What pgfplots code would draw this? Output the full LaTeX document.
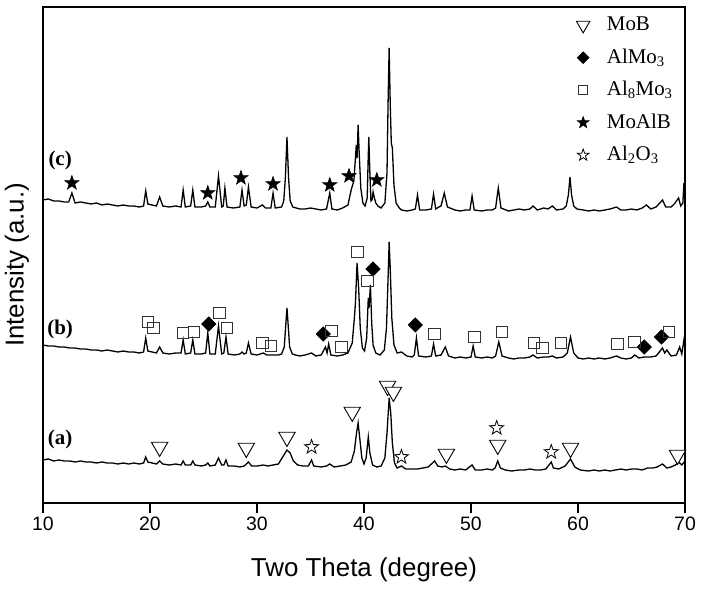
\documentclass[border=0pt]{standalone}
\usepackage{fontspec}
\setmainfont{Liberation Sans}
\newfontfamily\timesfont{Liberation Serif}
\usepackage{pgfplots}
\pgfplotsset{compat=1.18}
\usepackage{pgfplotstable}

\pgfdeclareplotmark{dtri}{%
  \pgfpathmoveto{\pgfqpointpolar{270}{\pgfplotmarksize}}%
  \pgfpathlineto{\pgfqpointpolar{30}{\pgfplotmarksize}}%
  \pgfpathlineto{\pgfqpointpolar{150}{\pgfplotmarksize}}%
  \pgfpathclose
  \pgfusepathqfillstroke}
\pgfdeclareplotmark{fivestar}{%
  \pgfpathmoveto{\pgfpointpolar{90}{\pgfplotmarksize}}%
  \pgfpathlineto{\pgfpointpolar{126}{0.4\pgfplotmarksize}}%
  \pgfpathlineto{\pgfpointpolar{162}{\pgfplotmarksize}}%
  \pgfpathlineto{\pgfpointpolar{198}{0.4\pgfplotmarksize}}%
  \pgfpathlineto{\pgfpointpolar{234}{\pgfplotmarksize}}%
  \pgfpathlineto{\pgfpointpolar{270}{0.4\pgfplotmarksize}}%
  \pgfpathlineto{\pgfpointpolar{306}{\pgfplotmarksize}}%
  \pgfpathlineto{\pgfpointpolar{342}{0.4\pgfplotmarksize}}%
  \pgfpathlineto{\pgfpointpolar{18}{\pgfplotmarksize}}%
  \pgfpathlineto{\pgfpointpolar{54}{0.4\pgfplotmarksize}}%
  \pgfpathclose
  \pgfusepathqfillstroke}

\pgfplotstableread{
t y
10.0 303
10.5 304
11.0 302
11.5 302
12.0 301
12.4 301
12.7 310
13.0 300
13.5 301
14.0 300
14.5 299
15.0 300
15.5 298
16.0 299
16.5 298
17.0 297
17.5 298
18.0 297
18.5 297
19.0 296
19.4 297
19.6 312
19.8 299
20.2 298
20.6 297
20.9 306
21.2 297
21.8 296
22.4 297
22.9 296
23.1 313
23.3 296
23.8 297
24.0 313
24.2 296
24.8 296
25.2 297
25.4 301
25.6 296
26.1 296
26.4 327
26.7 296
26.85 297
27.0 315
27.2 296
27.8 295
28.4 296
28.6 313
28.8 297
29.0 298
29.2 316
29.45 296
30.0 295
30.5 298
30.8 295
31.3 295
31.5 310
31.7 295
32.3 296
32.5 302
32.65 325
32.8 366
32.95 325
33.1 302
33.35 296
34.0 294
34.5 294
35.0 295
35.5 294
36.0 293
36.5 294
36.8 310
37.0 294
37.5 293
38.0 295
38.5 298
38.8 313
39.05 322
39.2 345
39.28 358
39.35 345
39.45 378
39.55 350
39.7 315
39.9 300
40.1 297
40.3 305
40.38 340
40.45 366
40.55 330
40.65 302
40.75 303
40.85 311
40.95 306
41.1 300
41.3 297
41.6 295
41.95 300
42.15 330
42.25 400
42.35 455
42.45 400
42.55 360
42.65 355
42.8 318
43.0 300
43.3 295
43.5 293
44.0 292
44.5 293
44.8 294
45.0 308
45.2 293
45.8 293
46.3 294
46.5 309
46.7 294
47.0 296
47.2 297
47.5 310
47.8 296
48.5 293
49.0 292
49.5 293
49.9 293
50.1 307
50.3 293
51.0 292
51.5 293
52.0 293
52.3 295
52.55 315
52.8 295
53.5 292
54.0 293
54.5 294
55.0 293
55.5 294
55.8 297
56.2 293
56.8 295
57.2 294
57.6 297
58.0 293
58.6 294
58.9 297
59.1 308
59.25 326
59.4 308
59.6 297
59.9 294
60.5 293
61.0 292
61.5 293
62.0 292
62.5 293
63.0 294
63.6 296
64.0 293
64.5 293
65.0 294
65.5 293
66.0 295
66.4 298
66.8 294
67.3 296
67.9 303
68.2 296
68.7 296
69.0 299
69.4 305
69.6 297
69.8 300
69.9 320
70.0 310
}\patc

\pgfplotstableread{
t y
10.0 158
10.5 157
11.0 157
11.5 156
12.0 156
12.5 155
13.0 155
13.5 154
14.0 154
14.5 153
15.0 153
15.5 152
16.0 153
16.5 152
17.0 151
17.5 152
18.0 151
18.5 151
19.0 150
19.4 151
19.6 165
19.8 152
20.2 151
20.6 150
20.9 156
21.2 150
21.8 149
22.4 150
22.9 150
23.1 163
23.3 149
23.8 150
24.0 163
24.2 149
24.8 149
25.2 150
25.4 170
25.6 149
26.1 149
26.4 177
26.7 149
26.9 150
27.1 166
27.3 149
27.9 148
28.4 149
28.6 151
28.8 149
29.0 150
29.2 160
29.45 149
30.0 148
30.6 150
30.9 148
31.5 148
32.0 148
32.3 149
32.55 156
32.7 180
32.8 195
32.9 180
33.05 156
33.3 149
33.6 148
34.0 147
34.5 148
35.1 150
35.5 147
36.0 148
36.4 156
36.55 150
36.7 159
36.9 148
37.5 147
38.0 148
38.5 150
38.9 160
39.1 185
39.2 200
39.35 240
39.5 215
39.65 175
39.85 155
40.05 152
40.25 165
40.4 205
40.47 195
40.6 218
40.72 180
40.85 158
41.1 150
41.5 148
41.9 153
42.1 175
42.25 225
42.35 261
42.45 235
42.6 185
42.8 158
43.1 150
43.5 151
44.0 147
44.5 146
44.7 148
44.9 165
45.1 147
45.8 146
46.3 147
46.5 159
46.7 147
47.2 148
47.6 156
47.9 147
48.5 145
49.0 146
49.5 145
50.0 146
50.2 157
50.4 146
51.0 145
51.5 146
52.0 145
52.3 147
52.6 161
52.9 147
53.5 145
54.0 144
54.5 145
55.0 145
55.5 146
55.8 148
56.2 145
56.8 146
57.2 146
57.6 147
58.0 145
58.6 146
59.0 150
59.3 166
59.6 150
60.0 145
60.5 144
61.0 145
61.5 144
62.0 145
62.5 144
63.0 145
63.6 147
64.0 145
64.5 144
65.0 145
65.3 148
65.7 145
66.2 146
66.8 146
67.3 147
67.9 155
68.1 150
68.3 153
68.7 147
69.2 148
69.5 156
69.7 149
69.9 163
70.0 155
}\patb

\pgfplotstableread{
t y
10.0 43
10.5 44
11.0 42
11.5 43
12.0 42
12.5 42
13.0 41
13.5 42
14.0 41
14.5 41
15.0 40
15.5 41
16.0 40
16.5 40
17.0 39
17.5 40
18.0 39
18.5 40
19.0 39
19.4 40
19.6 46
19.8 41
20.2 40
20.6 39
20.9 42
21.2 39
21.8 38
22.4 39
22.9 38
23.1 42
23.3 38
23.8 38
24.0 42
24.2 38
24.8 37
25.2 38
25.4 40
25.6 37
26.1 38
26.4 45
26.7 38
26.9 38
27.1 43
27.3 37
27.9 37
28.4 36
28.8 37
29.2 41
29.5 37
30.0 37
30.6 38
31.0 37
31.5 38
32.0 39
32.4 46
32.8 53
33.1 50
33.4 42
33.8 38
34.3 37
34.8 37
35.1 43
35.3 37
36.0 36
36.5 37
36.8 39
37.2 36
37.8 37
38.3 38
38.8 41
39.1 52
39.3 70
39.45 80
39.6 65
39.8 45
40.0 39
40.2 45
40.4 66
40.55 50
40.8 38
41.2 36
41.6 37
41.95 45
42.15 70
42.35 105
42.5 90
42.65 60
42.85 40
43.1 35
43.5 37
43.9 34
44.5 34
45.0 34
45.5 35
46.0 36
46.4 40
46.6 42
46.9 37
47.3 36
47.6 37
48.0 34
48.5 33
49.0 34
49.5 33
50.1 38
50.4 33
51.0 33
51.5 34
52.0 33
52.25 35
52.5 42
52.75 35
53.2 33
53.8 32
54.5 33
55.0 33
55.5 34
56.0 33
56.5 33
57.0 34
57.5 41
57.7 35
58.2 34
58.8 37
59.3 44
59.7 36
60.2 33
61.0 32
61.5 33
62.0 32
62.5 33
63.0 32
63.5 33
64.0 34
64.5 33
65.0 34
65.5 34
66.0 33
66.5 35
67.0 35
67.4 36
67.9 39
68.3 35
68.7 36
69.1 38
69.4 41
69.7 38
70.0 42
}\pata

\begin{document}
\begin{tikzpicture}
\begin{axis}[
  at={(0,0)}, anchor=south west,
  scale only axis, width=642bp, height=496bp,
  xmin=10, xmax=70, ymin=0, ymax=496,
  xtick={10,20,...,70}, ytick=\empty,
  xtick pos=lower, tick align=outside, major tick length=10bp,
  axis line style={line width=1.4bp},
  every tick/.style={black, line width=1.2bp},
  ticklabel style={font=\fontsize{19.5}{20}\selectfont},
  /pgf/number format/assume math mode=true,
  xlabel={Two Theta (degree)}, ylabel={Intensity (a.u.)},
  label style={font=\fontsize{26}{28}\selectfont},
  xlabel style={at={(axis description cs:0.5,-0.135)}, anchor=center},
  ylabel style={at={(axis description cs:-0.0405,0.48)}, anchor=center},
  legend image code/.code={\path[draw=none,fill=none] (-10bp,-5bp) rectangle (17bp,5bp); \draw[#1, every mark/.append style={scale=0.82}] plot coordinates {(0bp,0bp)};},
  legend style={draw=none, fill=none, inner sep=0pt,
    at={(axis description cs:0.8255,0.9965)}, anchor=north west,
    font=\timesfont\fontsize{21}{21}\selectfont,
    nodes={text height=15bp, text depth=4bp, inner sep=6.75bp},
    row sep=0pt},
  legend cell align=left,
]
\addplot[black, line width=1.3bp, forget plot] table[x=t,y=y] {\patc};
\addplot[black, line width=1.3bp, forget plot] table[x=t,y=y] {\patb};
\addplot[black, line width=1.3bp, forget plot] table[x=t,y=y] {\pata};

% MoB (open down triangles)
\addplot[only marks, mark=dtri, mark size=9.5pt, mark options={draw=black, fill=white, line width=0.9bp}]
 coordinates {(20.9,56) (29.0,55) (32.8,66) (38.9,91) (42.2,117) (42.75,111) (47.7,49) (52.5,58) (59.3,55) (69.3,48)};
% AlMo3 (diamonds)
\addplot[only marks, mark=square*, mark size=5pt, mark options={draw=black, fill=black, rotate=45, line width=0.8bp}]
 coordinates {(25.5,179) (36.2,169) (40.85,234) (44.8,178) (66.2,156) (67.8,166)};
% Al8Mo3 (open squares)
\addplot[only marks, mark=square, mark size=5.8pt, mark options={draw=black!80, fill=white, line width=0.9bp}]
 coordinates {(19.8,181) (20.3,175) (23.1,170) (24.1,171) (26.5,190) (27.2,175) (30.5,160) (31.3,157) (36.95,172) (37.9,156) (39.4,251) (40.3,222) (46.6,169) (50.3,166) (52.9,171) (55.9,160) (56.7,155) (58.4,160) (63.7,159) (65.3,161) (68.5,171)};
% MoAlB (filled stars)
\addplot[only marks, mark=fivestar, mark size=7.5pt, mark options={draw=black, fill=black, line width=0.6bp}]
 coordinates {(12.7,320) (25.4,310) (28.5,325) (31.5,319) (36.8,318) (38.6,327) (41.2,323)};
% Al2O3 (open stars)
\addplot[only marks, mark=fivestar, mark size=7.5pt, mark options={draw=black, fill=white, line width=0.8bp}]
 coordinates {(35.1,56) (43.5,46) (52.4,75) (57.5,51)};

\legend{MoB, AlMo\textsubscript{3}, Al\textsubscript{8}Mo\textsubscript{3}, MoAlB, Al\textsubscript{2}O\textsubscript{3}}

\node[font=\timesfont\bfseries\fontsize{21}{21}\selectfont] at (axis cs:11.6,343) {(c)};
\node[font=\timesfont\bfseries\fontsize{21}{21}\selectfont] at (axis cs:11.6,174) {(b)};
\node[font=\timesfont\bfseries\fontsize{21}{21}\selectfont] at (axis cs:11.6,64) {(a)};
\end{axis}
\pgfresetboundingbox
\path[use as bounding box] (-43bp,-86bp) rectangle (662bp,503bp);
\end{tikzpicture}
\end{document}
